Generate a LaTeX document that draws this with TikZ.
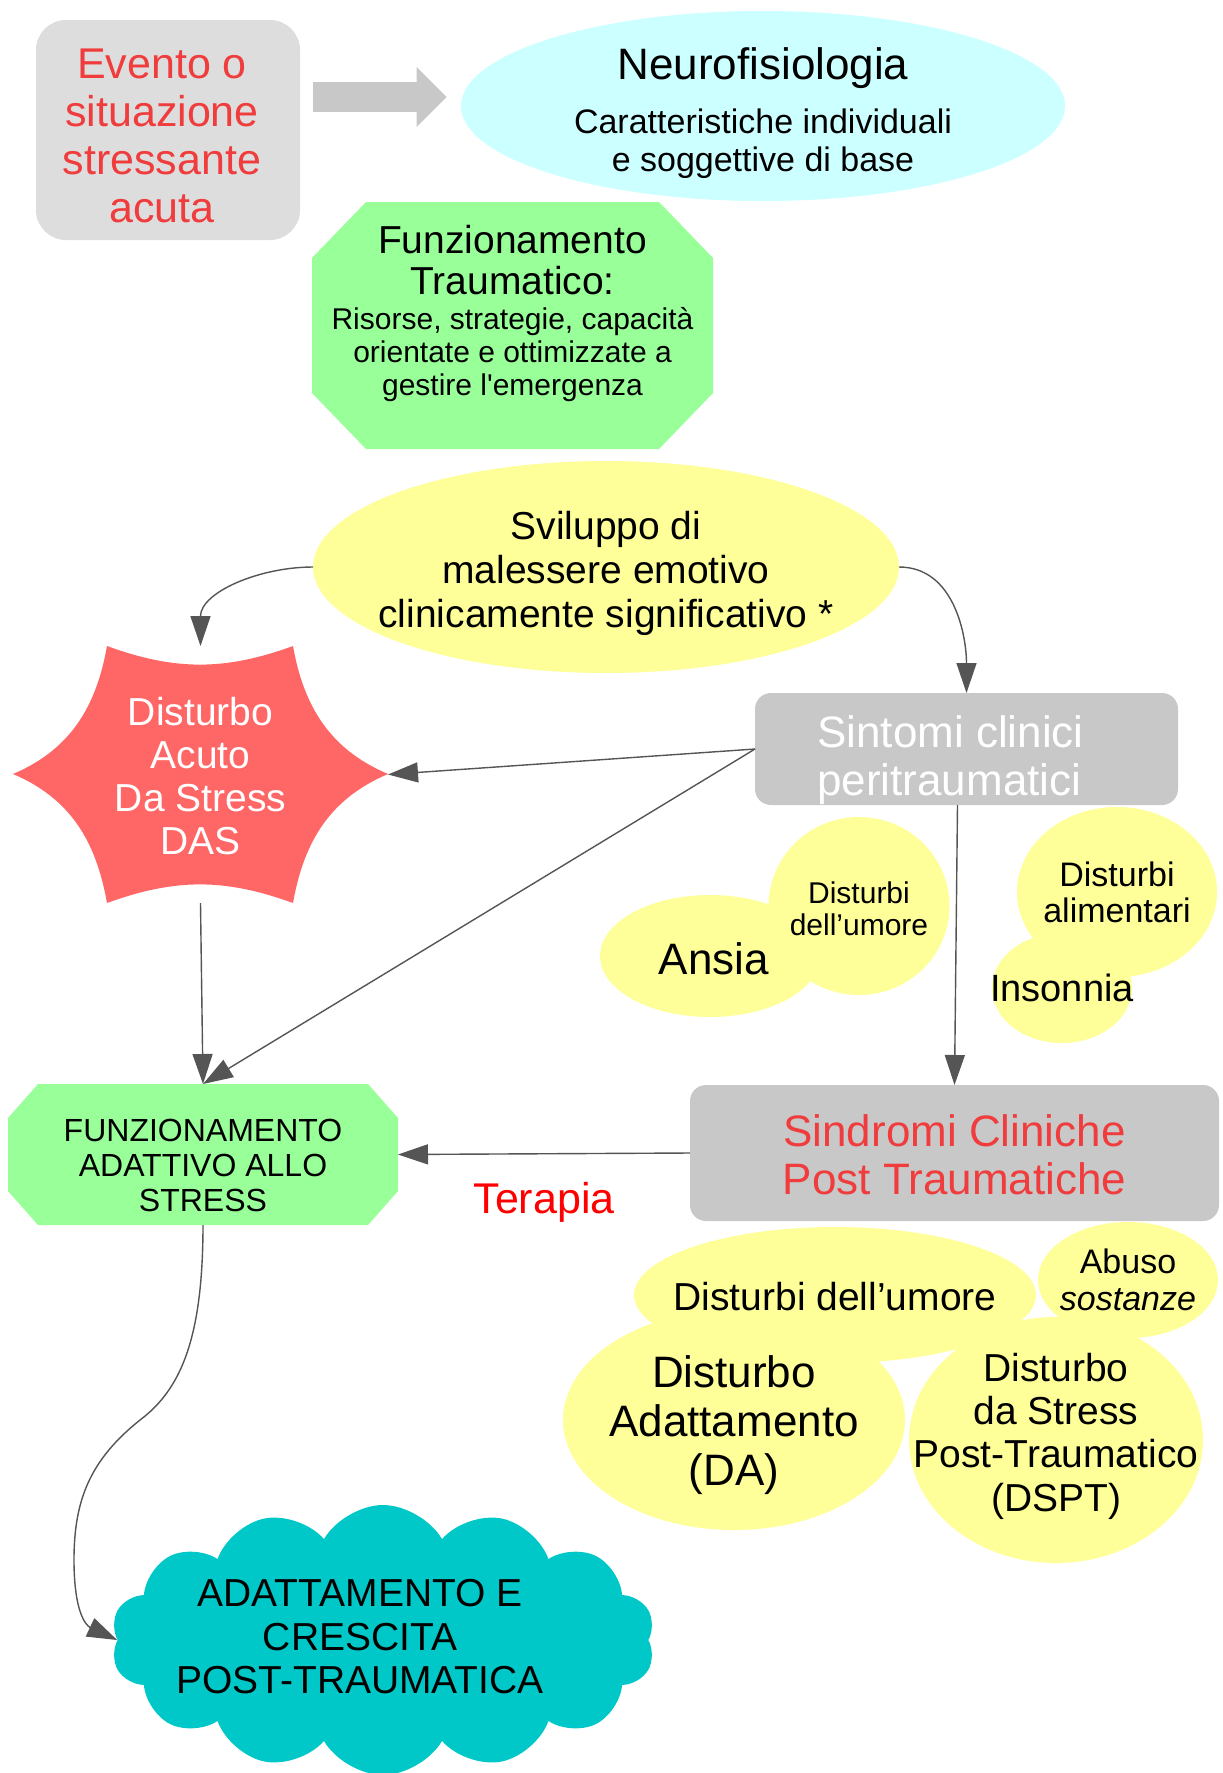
\documentclass[tikz,border=0pt]{standalone}
\usepackage{fontspec}
\setmainfont{Liberation Sans}
\usetikzlibrary{shapes.symbols, shapes.geometric, arrows.meta}

\definecolor{evgray}{HTML}{DDDDDD}
\definecolor{boxgray}{HTML}{C8C8C8}
\definecolor{neurocyan}{HTML}{CCFFFF}
\definecolor{okgreen}{HTML}{99FF99}
\definecolor{blobyellow}{HTML}{FFFF99}
\definecolor{dasred}{HTML}{FF6666}
\definecolor{cloudteal}{HTML}{00C8C8}
\definecolor{txtred}{HTML}{F03C3C}
\definecolor{arrowgray}{HTML}{555555}

\newcommand{\fsz}[2]{\fontsize{#1}{#2}\selectfont}

\tikzset{
link/.style={draw=arrowgray, line width=0.7pt, -{Triangle[length=15pt,width=10pt]}}, % thin connectors
bigarrow/.style={draw=boxgray, line width=15pt, -{Triangle[length=15pt,width=29pt]}}, % block arrow at the top
roundbox/.style={rectangle, rounded corners=8pt, fill=boxgray, inner sep=0pt, outer sep=0pt},
octo/.style 2 args={rectangle, fill=white, inner sep=0pt, outer sep=0pt, % green octagon, cut #1 across and #2 down
  path picture={\fill[okgreen] ([xshift=#1]path picture bounding box.north west) -- ([xshift=-#1]path picture bounding box.north east)
    -- ([yshift=-#2]path picture bounding box.north east) -- ([yshift=#2]path picture bounding box.south east)
    -- ([xshift=-#1]path picture bounding box.south east) -- ([xshift=#1]path picture bounding box.south west)
    -- ([yshift=#2]path picture bounding box.south west) -- ([yshift=-#2]path picture bounding box.north west) -- cycle;}},
blob/.style={ellipse, fill=blobyellow, inner sep=0pt, outer sep=0pt},
txt/.style={align=center, inner sep=0pt},
}

\begin{document}
\begin{tikzpicture}[x=0.5pt, y=0.5pt]
\useasboundingbox (0,0) rectangle (1222,-1773);

% top
\node[roundbox, fill=evgray, rounded corners=15pt, minimum width=132pt, minimum height=110pt,
  label={[txt, text=txtred, font=\fsz{21.5}{24}, xshift=-3pt, yshift=-3pt]center:{Evento o\\situazione\\stressante\\acuta}}] (evento) at (168,-130) {};
\node[ellipse, fill=neurocyan, inner sep=0pt, minimum width=302pt, minimum height=95pt,
  label={[txt, font=\fsz{17}{19}, yshift=-3.5pt]center:{{\fsz{22}{26}Neurofisiologia}\\[8pt]Caratteristiche individuali\\e soggettive di base}}] (neuro) at (763,-106) {};
\draw[bigarrow] ([xshift=6.5pt,yshift=16.5pt]evento.east) -- ([xshift=-7pt,yshift=4.5pt]neuro.west);

\node[octo={27pt}{28pt}, minimum width=200.5pt, minimum height=123.5pt,
  label={[txt, font=\fsz{15}{16.5}, yshift=6pt]center:{{\fsz{19.5}{21}Funzionamento}\\[4pt]{\fsz{19.5}{21}Traumatico:}\\[1pt]Risorse, strategie, capacità\\orientate e ottimizzate a\\gestire l\textquotesingle emergenza}}] (traumatico) at (512.5,-325.5) {};

\node[blob, minimum width=293pt, minimum height=106pt,
  label={[txt, font=\fsz{19.5}{22}, yshift=-3pt]center:{Sviluppo di\\malessere emotivo\\clinicamente significativo *}}] (sviluppo) at (606,-567) {};

% DAS star
\fill[dasred] (107,-646) to[out=-20,in=200] (293,-646) to[out=-80,in=157] (388,-774)
  to[out=203,in=80] (293,-903) to[out=160,in=20] (107,-903)
  to[out=100,in=-23] (13,-774) to[out=23,in=-100] cycle;
\node[rectangle, inner sep=0pt, outer sep=0pt, minimum width=187.5pt, minimum height=128.5pt,
  label={[txt, text=white, font=\fsz{19.5}{21.5}, yshift=-1pt]center:{Disturbo\\Acuto\\Da Stress\\DAS}}] (das) at (200.5,-774.5) {};

\node[roundbox, minimum width=211.5pt, minimum height=56pt,
  label={[txt, align=left, text=white, font=\fsz{22}{24}, xshift=-8pt, yshift=-5.5pt]center:{Sintomi clinici\\peritraumatici}}] (sintomi) at (966.5,-749) {};

% symptoms
\node[blob, minimum width=110pt, minimum height=61pt,
  label={[txt, font=\fsz{22}{24}, xshift=2pt, yshift=-1.5pt]center:Ansia}] (ansia) at (710,-956) {};
\node[blob, minimum width=90.5pt, minimum height=89pt,
  label={[txt, font=\fsz{15}{16}, yshift=-1.5pt]center:{Disturbi\\dell’umore}}] (umoreA) at (859,-906) {};
\node[blob, minimum width=100pt, minimum height=85pt,
  label={[txt, font=\fsz{17}{18}]center:{Disturbi\\alimentari}}] (alim) at (1117,-892) {};
\node[blob, minimum width=70pt, minimum height=55pt,
  label={[txt, font=\fsz{19}{21}]center:Insonnia}] (insonnia) at (1062,-988) {};

\node[octo={15pt}{17pt}, minimum width=195pt, minimum height=70.5pt,
  label={[txt, font=\fsz{16}{17.5}, yshift=-5.5pt]center:{FUNZIONAMENTO\\ADATTIVO ALLO\\STRESS}}] (adattivo) at (203,-1154.5) {};
\node[roundbox, minimum width=264.5pt, minimum height=68pt,
  label={[txt, text=txtred, font=\fsz{22}{24}, yshift=-1pt]center:{Sindromi Cliniche\\Post Traumatiche}}] (sindromi) at (954.5,-1153) {};

% syndromes
\node[blob, minimum width=171pt, minimum height=110pt] (da) at (734,-1420) {};
\node[blob, minimum width=147pt, minimum height=123pt] (dspt) at (1056,-1440) {};
\node[blob, minimum width=201pt, minimum height=68pt] (umoreB) at (835,-1295) {};
\node[blob, minimum width=90pt, minimum height=58pt] (abuso) at (1128,-1280) {};
\node[txt, font=\fsz{22}{24.5}, yshift=-2.5pt] (datxt) at (da) {Disturbo\\Adattamento\\(DA)};
\node[txt, font=\fsz{19.5}{21.7}, yshift=2pt] (dspttxt) at (dspt) {Disturbo\\da Stress\\Post-Traumatico\\(DSPT)};
\node[txt, font=\fsz{19.5}{21.5}, yshift=-1pt] (umoreBtxt) at (umoreB) {Disturbi dell’umore};
\node[txt, font=\fsz{17}{18.5}] (abusotxt) at (abuso) {Abuso\\\textit{sostanze}};

\node[cloud, cloud puffs=14, cloud puff arc=120, aspect=2, fill=cloudteal, inner sep=0pt, minimum width=272pt, minimum height=135pt,
  label={[txt, font=\fsz{19.5}{21.75}, xshift=-11.5pt, yshift=1.5pt]center:{ADATTAMENTO E\\CRESCITA\\POST-TRAUMATICA}}] (crescita) at (383,-1640) {};

% connectors
\draw[link] (sviluppo.west) to[out=180,in=90] (das.north);
\draw[link] (sviluppo.east) to[out=0,in=90] (sintomi.north);
\draw[link] (sintomi.west) -- (das.east);
\draw[link] (sintomi.west) -- (adattivo.north);
\draw[link] (das.south) -- (adattivo.north);
\draw[link] ([xshift=-4.5pt]sintomi.south) -- (sindromi.north);
\draw[link] (sindromi.west) -- node[midway, yshift=-24.5pt, text=red, font=\fsz{21.5}{24}] (terapia) {Terapia} (adattivo.east);
\draw[link] (adattivo.south) .. controls (203,-1340) and (180,-1390) .. (140,-1420)
  .. controls (90,-1460) and (74,-1500) .. (74,-1560)
  .. controls (74,-1610) and (85,-1625) .. (crescita.west);
\end{tikzpicture}
\end{document}
